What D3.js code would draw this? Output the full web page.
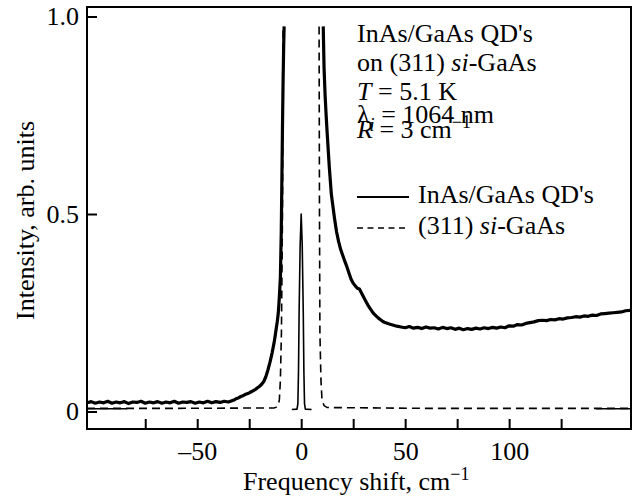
<!DOCTYPE html>
<html>
<head>
<meta charset="utf-8">
<script src="https://cdn.jsdelivr.net/npm/d3@7"></script>
<style>
  html, body { margin: 0; padding: 0; background: #fff; }
  svg { display: block; }
  text { font-family: "Liberation Serif", "Times New Roman", serif; fill: #000; }
</style>
</head>
<body>
<svg id="chart" width="634" height="497"></svg>
<script>
// ---------- data ----------
const xTicks = [-75, -50, -25, 0, 25, 50, 75, 100, 125];
const xTickLabels = ["", "–50", "", "0", "", "50", "", "100", ""];
const yTicks = [0, 0.5, 1.0];
const yTickLabels = ["0", "0.5", "1.0"];

// InAs/GaAs QD's (solid, noisy) – frequency shift (cm^-1)
const qdShift = [
  -103, -101, -99, -97, -95, -93, -91, -89, -87, -85, -83, -81, -79, -77, -75, -73, -71, -69, -67, -65,
  -63, -61, -59, -57, -55, -53, -51, -49, -47, -45, -43, -41, -39, -37, -35,
  -33, -32, -31, -30, -29, -28, -27, -26, -25, -24, -23, -22, -21, -20, -19, -18, -17, -16, -15, -14,
  -13, -12.5, -12, -11.5, -11, -10.5, -10, -9.6, -9.3, -9.0, -8.7, -8.4, -8.2
];
const qdLeft = [
  0.022, 0.025, 0.021, 0.024, 0.022, 0.026, 0.021, 0.024, 0.022, 0.025, 0.020, 0.024, 0.023, 0.026, 0.021, 0.024, 0.022, 0.025, 0.021, 0.024,
  0.022, 0.026, 0.021, 0.024, 0.023, 0.025, 0.021, 0.024, 0.022, 0.026, 0.022, 0.025, 0.023, 0.026, 0.024,
  0.028, 0.030, 0.033, 0.035, 0.038, 0.040, 0.043, 0.045, 0.047, 0.050, 0.053, 0.056, 0.060, 0.064, 0.069, 0.076, 0.088, 0.105, 0.125, 0.148,
  0.175, 0.192, 0.210, 0.228, 0.250, 0.290, 0.340, 0.450, 0.580, 0.720, 0.840, 0.930, 0.975
];
const qdShiftR = [
  10.6, 11, 11.5, 12, 12.5, 13.5, 14.5, 15, 16, 17, 18, 19, 20, 21, 22, 23, 24, 25, 26, 27,
  28, 29, 30, 31, 32, 33, 34, 35, 36, 37, 38, 39, 40, 42, 44, 46, 48, 50, 52, 54,
  56, 58, 60, 62, 64, 66, 68, 70, 72, 74, 76, 78, 80, 82, 84, 86, 88, 90, 92, 94,
  96, 98, 100, 102, 104, 106, 108, 110, 112, 114, 116, 118, 120, 122, 124, 126, 128, 130, 132, 134,
  136, 138, 140, 142, 144, 146, 148, 150, 152, 154, 156, 158, 158.6
];
const qdRight = [
  0.975, 0.870, 0.800, 0.750, 0.705, 0.620, 0.550, 0.530, 0.490, 0.455, 0.430, 0.410, 0.395, 0.380, 0.366, 0.350, 0.335, 0.325, 0.318, 0.312,
  0.310, 0.300, 0.290, 0.280, 0.270, 0.262, 0.254, 0.247, 0.242, 0.237, 0.233, 0.229, 0.226, 0.222, 0.219, 0.216, 0.214, 0.212, 0.215, 0.211,
  0.213, 0.210, 0.214, 0.211, 0.212, 0.209, 0.213, 0.210, 0.212, 0.208, 0.211, 0.207, 0.210, 0.208, 0.211, 0.209, 0.212, 0.210, 0.213, 0.211,
  0.214, 0.212, 0.217, 0.216, 0.220, 0.219, 0.223, 0.225, 0.227, 0.230, 0.231, 0.230, 0.233, 0.232, 0.235, 0.234, 0.237, 0.238, 0.240, 0.239,
  0.242, 0.241, 0.244, 0.243, 0.247, 0.248, 0.249, 0.250, 0.251, 0.252, 0.255, 0.256, 0.257
];

// Laser line (solid, thin)
const laserShift = [-4.5, -2, -1.6, -1.3, -1.0, -0.5, 0, 0.5, 1.0, 1.3, 1.6, 2, 5];
const laserValue = [0.005, 0.006, 0.02, 0.10, 0.25, 0.42, 0.50, 0.42, 0.25, 0.10, 0.02, 0.006, 0.005];

// (311) si-GaAs (dashed)
const gaasShiftL = [-103, -60, -13, -12, -11, -10.5, -10, -9.5, -9, -8.7];
const gaasLeft = [0.008, 0.008, 0.009, 0.011, 0.016, 0.03, 0.08, 0.2, 0.5, 0.975];
const gaasShiftR = [8.6, 8.8, 9.0, 9.5, 10, 11, 12.5, 60, 158.6];
const gaasRight = [0.975, 0.5, 0.2, 0.08, 0.03, 0.015, 0.01, 0.008, 0.008];

// short solid baseline pieces at the edges
const edgeSegments = [[-103, -83.7], [141.8, 158.6]];
const edgeValue = 0.007;

// ---------- drawing ----------
const svg = d3.select("#chart");
const L = 87, T = 7, R = 631, B = 429;
const x = d3.scaleLinear().domain([-103, 158.6]).range([L, R]);
const y = d3.scaleLinear().domain([-0.0443, 1.0241]).range([B, T]);

svg.append("rect").attr("width", 634).attr("height", 497).attr("fill", "#fff");

svg.append("defs").append("clipPath").attr("id", "clip")
  .append("rect").attr("x", L).attr("y", T).attr("width", R - L).attr("height", B - T);

const plot = svg.append("g").attr("clip-path", "url(#clip)");
const line = d3.line().x(d => x(d[0])).y(d => y(d[1]));
const zip = (a, b) => a.map((v, i) => [v, b[i]]);

// dashed GaAs
plot.append("path").datum(zip(gaasShiftL, gaasLeft)).attr("d", line)
  .attr("fill", "none").attr("stroke", "#000").attr("stroke-width", 1.6).attr("stroke-dasharray", "8,5");
plot.append("path").datum(zip(gaasShiftR, gaasRight)).attr("d", line)
  .attr("fill", "none").attr("stroke", "#000").attr("stroke-width", 1.6).attr("stroke-dasharray", "8,5");

// edge baseline pieces
edgeSegments.forEach(s => {
  plot.append("path").datum([[s[0], edgeValue], [s[1], edgeValue]]).attr("d", line)
    .attr("fill", "none").attr("stroke", "#000").attr("stroke-width", 1.3);
});

// laser line
plot.append("path").datum(zip(laserShift, laserValue)).attr("d", line)
  .attr("fill", "none").attr("stroke", "#000").attr("stroke-width", 1.6).attr("stroke-linejoin", "round");

// QD solid noisy
plot.append("path").datum(zip(qdShift, qdLeft)).attr("d", line)
  .attr("fill", "none").attr("stroke", "#000").attr("stroke-width", 3.2).attr("stroke-linejoin", "round");
plot.append("path").datum(zip(qdShiftR, qdRight)).attr("d", line)
  .attr("fill", "none").attr("stroke", "#000").attr("stroke-width", 3.2).attr("stroke-linejoin", "round");

// axes
const xAxis = d3.axisBottom(x).tickValues(xTicks).tickSize(-10).tickPadding(13)
  .tickFormat((d, i) => xTickLabels[i]);
const gx = svg.append("g").attr("transform", `translate(0,${B})`).call(xAxis);
gx.select(".domain").remove();
gx.selectAll(".tick line").attr("stroke", "#000").attr("stroke-width", 2);
gx.selectAll(".tick text").attr("font-size", 26).attr("font-family", "Liberation Serif").attr("fill", "#000");

const yAxis = d3.axisLeft(y).tickValues(yTicks).tickSize(-10).tickPadding(8)
  .tickFormat((d, i) => yTickLabels[i]);
const gy = svg.append("g").attr("transform", `translate(${L},0)`).call(yAxis);
gy.select(".domain").remove();
gy.selectAll(".tick line").attr("stroke", "#000").attr("stroke-width", 2);
gy.selectAll(".tick text").attr("font-size", 26).attr("font-family", "Liberation Serif").attr("fill", "#000");

// frame
svg.append("rect").attr("x", L).attr("y", T).attr("width", R - L).attr("height", B - T)
  .attr("fill", "none").attr("stroke", "#000").attr("stroke-width", 2);

// axis titles
const xt = svg.append("text").attr("x", 243).attr("y", 490).attr("font-size", 26);
xt.append("tspan").text("Frequency shift, cm");
xt.append("tspan").attr("font-size", 18).attr("dy", -10).text("−1");

svg.append("text").attr("transform", "translate(34,320) rotate(-90)")
  .attr("font-size", 26).text("Intensity, arb. units");

// annotation block
const fs = 26, tx = 357;
svg.append("text").attr("x", tx).attr("y", 42).attr("font-size", fs).text("InAs/GaAs QD's");
const l2 = svg.append("text").attr("x", tx).attr("y", 71).attr("font-size", fs);
l2.append("tspan").text("on (311) ");
l2.append("tspan").attr("font-style", "italic").text("si");
l2.append("tspan").text("-GaAs");
const l3 = svg.append("text").attr("x", tx).attr("y", 100).attr("font-size", fs);
l3.append("tspan").attr("font-style", "italic").text("T");
l3.append("tspan").text(" = 5.1 K");
const l4 = svg.append("text").attr("x", tx).attr("y", 123).attr("font-size", fs);
l4.append("tspan").text("λ");
l4.append("tspan").attr("font-style", "italic").attr("font-size", 18).attr("dy", 8).text("i");
l4.append("tspan").attr("dy", -8).text(" = 1064 nm");
const l5 = svg.append("text").attr("x", tx).attr("y", 138).attr("font-size", fs);
l5.append("tspan").attr("font-style", "italic").text("R");
l5.append("tspan").text(" = 3 cm");
l5.append("tspan").attr("font-size", 18).attr("dy", -10).text("−1");

// legend
svg.append("line").attr("x1", 357).attr("x2", 409).attr("y1", 197).attr("y2", 197)
  .attr("stroke", "#000").attr("stroke-width", 2);
svg.append("text").attr("x", 418).attr("y", 203).attr("font-size", fs).text("InAs/GaAs QD's");
svg.append("line").attr("x1", 357).attr("x2", 409).attr("y1", 228).attr("y2", 228)
  .attr("stroke", "#000").attr("stroke-width", 1.4).attr("stroke-dasharray", "6,4.5");
const lg2 = svg.append("text").attr("x", 418).attr("y", 234).attr("font-size", fs);
lg2.append("tspan").text("(311) ");
lg2.append("tspan").attr("font-style", "italic").text("si");
lg2.append("tspan").text("-GaAs");
</script>
</body>
</html>
